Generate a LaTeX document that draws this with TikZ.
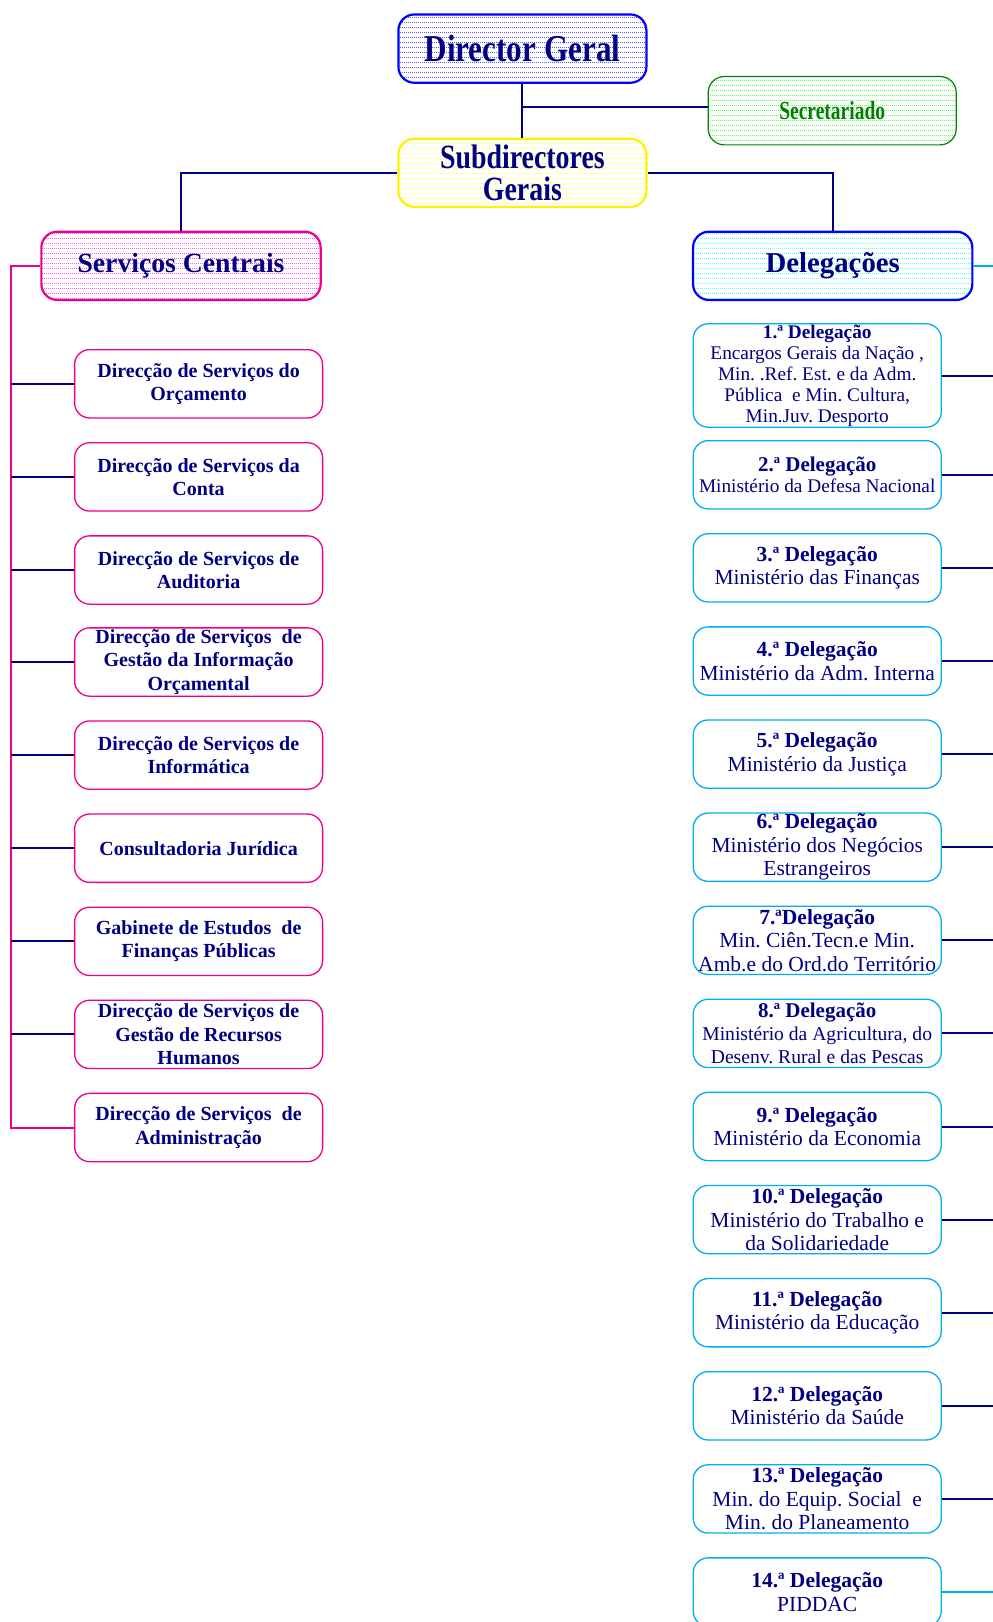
\documentclass[tikz,border=0pt]{standalone}
\usepackage{fontspec}
\setmainfont{Liberation Serif}
\newfontfamily\narrowA[FakeStretch=0.82]{Liberation Serif}
\newfontfamily\narrowB[FakeStretch=0.75]{Liberation Serif}
\frenchspacing
\usetikzlibrary{patterns.meta}
\definecolor{navy}{RGB}{0,0,128}
\definecolor{dkgreen}{RGB}{0,128,0}
\tikzdeclarepattern{name=dotrows,type=uncolored,
  tile size={(2pt,4.5pt)},bounding box={(0pt,0pt) and (2pt,4.5pt)},
  code={\pgfpathrectangle{\pgfpointorigin}{\pgfpoint{1pt}{0.9pt}}\pgfusepath{fill}}}
\tikzset{
  head/.style={draw,rounded corners=16,line width=2.2,minimum width=248,minimum height=68.3,
    inner sep=0,align=center,text=navy,pattern=dotrows},
  unitbox/.style={draw=magenta,rounded corners=15,line width=1.3,minimum width=248,minimum height=68.3,
    inner sep=0,align=center,text=navy,font=\bfseries\fontsize{20}{23.3}\selectfont},
  delbox/.style={draw=cyan,rounded corners=15,line width=1.3,minimum width=248,minimum height=68.3,
    inner sep=0,align=center,text=navy,font=\fontsize{21.5}{23.5}\selectfont},
  link/.style={navy,line width=2}
}
\begin{document}
\begin{tikzpicture}[x=1pt,y=-1pt]
\useasboundingbox (0,0) rectangle (993,1622);
% topo
\node[head,draw=blue,pattern color=blue,font=\narrowA\bfseries\fontsize{38}{40}\selectfont] (dir) at (522.4,48.6) {Director Geral};
\node[head,draw=dkgreen,line width=1.2,pattern color=green,text=dkgreen,font=\narrowB\bfseries\fontsize{26}{28}\selectfont] (sec) at (832.2,110.7) {Secretariado};
\node[head,draw=yellow,pattern color=yellow,font=\narrowA\bfseries\fontsize{34}{32}\selectfont] (sub) at (522.4,172.8) {Subdirectores\\Gerais};
\node[head,draw=magenta,minimum width=279.3,pattern color=magenta,font=\bfseries\fontsize{27.7}{30}\selectfont] (sc) at (181,265.8) {Serviços Centrais};
\node[head,draw=blue,minimum width=279.3,pattern color=cyan,font=\bfseries\fontsize{28.8}{30}\selectfont] (del) at (832.7,265.8) {Delegações};

% servicos centrais
\node[unitbox] (s1) at (198.6,383.8) {Direcção de Serviços do\\Orçamento};
\node[unitbox] (s2) at (198.6,476.9) {Direcção de Serviços da\\Conta};
\node[unitbox] (s3) at (198.6,570) {Direcção de Serviços de\\Auditoria};
\node[unitbox] (s4) at (198.6,662) {Direcção de Serviços~ de\\Gestão da Informação\\Orçamental};
\node[unitbox] (s5) at (198.6,755.1) {Direcção de Serviços de\\Informática};
\node[unitbox] (s6) at (198.6,848.2) {Consultadoria Jurídica};
\node[unitbox] (s7) at (198.6,941.3) {Gabinete de Estudos~ de\\Finanças Públicas};
\node[unitbox] (s8) at (198.6,1034.4) {Direcção de Serviços de\\Gestão de Recursos\\Humanos};
\node[unitbox] (s9) at (198.6,1127.5) {Direcção de Serviços~ de\\Administração};

% delegacoes
\node[delbox,minimum height=103.4,font=\fontsize{19.3}{21}\selectfont] (d1) at (817.2,375.5) {\textbf{1.ª Delegação}\\Encargos Gerais da Nação ,\\Min. .Ref. Est. e da Adm.\\Pública~ e Min. Cultura,\\Min.Juv. Desporto};
\node[delbox,font=\fontsize{19.3}{21.7}\selectfont] (d2) at (817.2,474.8) {\textbf{\fontsize{21}{21.7}\selectfont 2.ª Delegação}\\Ministério da Defesa Nacional};
\node[delbox] (d3) at (817.2,567.9) {\textbf{3.ª Delegação}\\Ministério das Finanças};
\node[delbox] (d4) at (817.2,661) {\textbf{4.ª Delegação}\\Ministério da Adm. Interna};
\node[delbox] (d5) at (817.2,754.1) {\textbf{5.ª Delegação}\\Ministério da Justiça};
\node[delbox] (d6) at (817.2,847.2) {\textbf{6.ª Delegação}\\Ministério dos Negócios\\Estrangeiros};
\node[delbox] (d7) at (817.2,940.3) {\textbf{7.ªDelegação}\\Min. Ciên.Tecn.e Min.\\Amb.e do Ord.do Território};
\node[delbox,font=\fontsize{19.6}{22.7}\selectfont] (d8) at (817.2,1033.4) {\textbf{\fontsize{21}{22.7}\selectfont 8.ª Delegação}\\Ministério da Agricultura, do\\Desenv. Rural e das Pescas};
\node[delbox] (d9) at (817.2,1126.5) {\textbf{9.ª Delegação}\\Ministério da Economia};
\node[delbox] (d10) at (817.2,1219.6) {\textbf{10.ª Delegação}\\Ministério do Trabalho e\\da Solidariedade};
\node[delbox] (d11) at (817.2,1312.7) {\textbf{11.ª Delegação}\\Ministério da Educação};
\node[delbox] (d12) at (817.2,1405.8) {\textbf{12.ª Delegação}\\Ministério da Saúde};
\node[delbox] (d13) at (817.2,1498.9) {\textbf{13.ª Delegação}\\Min. do Equip. Social~ e\\Min. do Planeamento};
\node[delbox] (d14) at (817.2,1592) {\textbf{14.ª Delegação}\\PIDDAC};

% ligacoes
\coordinate (lb) at (11.4,1127.5);
\coordinate (re) at (993,0);
\draw[link] (dir) -- (sub);
\draw[link] ([yshift=4]dir.south |- sec.west) -- ([yshift=4]sec.west);
\draw[link] (sub.west) -| (sc.north);
\draw[link] (sub.east) -| (del.north);
\draw[link,magenta] (sc.west) -| (lb) -- (s9.west);
\foreach \i in {1,...,8} \draw[link] (s\i.west -| lb) -- (s\i.west);
\foreach \i in {1,...,13} \draw[link] (d\i.east) -- (d\i.east -| re);
\draw[link,cyan] (d14.east) -- (d14.east -| re);
\draw[link,cyan] (del.east) -- (del.east -| re);
\end{tikzpicture}
\end{document}
